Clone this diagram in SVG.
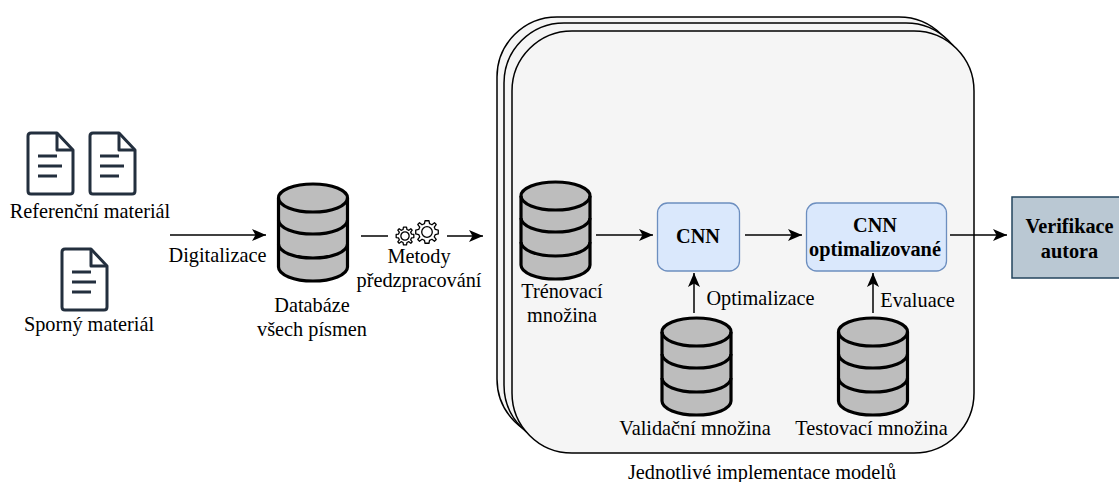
<svg xmlns="http://www.w3.org/2000/svg" width="1119" height="482" viewBox="0 0 1119 482">
<style>
text{font-family:"Liberation Serif","Times New Roman",serif;font-size:20.3px;fill:#000;text-anchor:middle}
.b{font-weight:bold}
.stack{fill:#f5f5f5;stroke:#000;stroke-width:1.5}
.db path{fill:#bdbdbd;stroke:#000;stroke-width:3.2;stroke-linejoin:round}
.db path.l{fill:none}
.doc path{fill:none;stroke:#232f3e;stroke-width:3;stroke-linejoin:round}
.cnn{fill:#dae8fc;stroke:#6c8ebf;stroke-width:1.3}
.con line{stroke:#000;stroke-width:1.5;marker-end:url(#arr)}
.gear path,.gear circle{fill:none;stroke:#000;stroke-width:1.3;stroke-linejoin:round;vector-effect:non-scaling-stroke}
</style>
<defs>
<marker id="arr" markerUnits="userSpaceOnUse" markerWidth="16" markerHeight="14" refX="14" refY="7" orient="auto"><path d="M0 1L14 7L0 13L3.500 7Z" fill="#000"/></marker>
<g id="cyl" class="db">
<path d="M0 14V83A34.5 14 0 0 0 69 83V14A34.5 14 0 0 0 0 14Z"/>
<path class="l" d="M0 14A34.5 14 0 0 0 69 14"/>
<path class="l" d="M0 36A34.5 14 0 0 0 69 36"/>
<path class="l" d="M0 60A34.5 14 0 0 0 69 60"/>
</g>
<g id="docicon" class="doc">
<path d="M3 0H29L45 17V58Q45 61 42 61H3Q0 61 0 58V3Q0 0 3 0Z"/>
<path d="M29 0V17H45"/>
<path d="M10 23H29M10 33H34M10 43H29"/>
</g>
<g id="gearshape" class="gear">
<path d="M-17-98L17-98L22-72L43-63L65-80L80-65L63-43L72-22L98-17L98 17L72 22L63 43L80 65L65 80L43 63L22 72L17 98L-17 98L-22 72L-43 63L-65 80L-80 65L-63 43L-72 22L-98 17L-98-17L-72-22L-63-43L-80-65L-65-80L-43-63L-22-72Z"/>
<circle r="46"/>
</g>
</defs>
<g id="stack">
<rect class="stack" x="497" y="17" width="462" height="422" rx="60"/>
<rect class="stack" x="504" y="23" width="462" height="422" rx="60"/>
<rect class="stack" x="512" y="31" width="462" height="422" rx="60"/>
</g>
<g id="docs-ref"><use href="#docicon" x="28" y="133"/><use href="#docicon" x="90" y="133"/><text x="90" y="218">Referenční materiál</text></g>
<g id="doc-spor"><use href="#docicon" x="62" y="249"/><text x="89" y="331">Sporný materiál</text></g>
<g id="db-all"><use href="#cyl" x="278.500" y="184"/><text x="312" y="312">Databáze</text><text x="312" y="336">všech písmen</text></g>
<g id="gears"><use href="#gearshape" transform="translate(405 236) scale(.09)"/><use href="#gearshape" transform="translate(427 232) scale(.115)"/></g>
<g id="metody"><text x="419" y="263">Metody</text><text x="419" y="287">předzpracování</text></g>
<g id="db-train"><use href="#cyl" x="521" y="182"/><text x="562" y="298">Trénovací</text><text x="562" y="322">množina</text></g>
<g id="db-val"><use href="#cyl" x="662" y="318"/><text x="695" y="435">Validační množina</text></g>
<g id="db-test"><use href="#cyl" x="838.500" y="318"/><text x="871.500" y="435">Testovací množina</text></g>
<g id="cnn"><rect class="cnn" x="657.500" y="203" width="82" height="68" rx="10"/><text class="b" x="698" y="243">CNN</text></g>
<g id="cnn-opt"><rect class="cnn" x="806.500" y="203" width="140" height="68" rx="10"/><text class="b" x="875" y="232">CNN</text><text class="b" x="875" y="256">optimalizované</text></g>
<g id="verify"><rect x="1012" y="197" width="110" height="81" fill="#bac8d3" stroke="#23445d" stroke-width="1.5"/><text class="b" x="1069.500" y="233">Verifikace</text><text class="b" x="1069.500" y="258">autora</text></g>
<g id="connectors" class="con">
<line x1="170" y1="235" x2="266" y2="235"/>
<line x1="361" y1="236" x2="388" y2="236" style="marker-end:none"/>
<line x1="447" y1="236" x2="483" y2="236"/>
<line x1="596" y1="235" x2="653" y2="235"/>
<line x1="745" y1="235" x2="802" y2="235"/>
<line x1="950" y1="235" x2="1007" y2="235"/>
<line x1="694" y1="313" x2="694" y2="273"/>
<line x1="873" y1="313" x2="873" y2="273"/>
</g>
<g id="labels">
<text x="217.500" y="262">Digitalizace</text>
<text x="760.500" y="305">Optimalizace</text>
<text x="917.500" y="307">Evaluace</text>
<text x="762" y="479">Jednotlivé implementace modelů</text>
</g>
</svg>
